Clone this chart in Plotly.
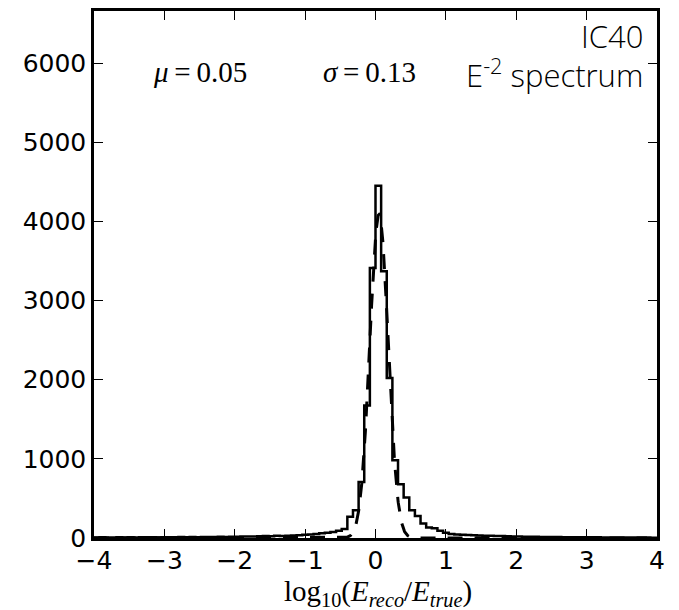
import numpy as np
import plotly.graph_objects as go

# ---- data ----
bin_lo, bin_hi, bin_width = -4.0, 4.0, 0.08
counts = [
    6, 8, 5, 7, 9, 6, 8, 7, 10, 8, 9, 7, 10, 11, 9, 12, 10, 13, 11, 12, 14, 12, 15, 13, 16,
    17, 18, 20, 19, 22, 24, 23, 27, 26, 30, 33, 36, 40,
    45, 50, 59, 67, 75, 92, 113, 268, 352, 709, 1673, 3413,
    4453, 3371, 2021, 981, 679, 512, 352, 277, 184, 134, 122, 92, 67, 50,
    45, 40, 38, 35, 33, 30,
    28, 26, 24, 22, 20,
    18, 17, 16, 15, 14, 13, 12, 12, 11, 10, 10, 9, 9,
    8, 8, 7, 7, 6, 6, 6, 5, 5, 5, 4, 4,
]
fit_mu = 0.05
fit_sigma = 0.13
fit_amp = 4090.0

x_ticks = [-4, -3, -2, -1, 0, 1, 2, 3, 4]
x_ticktext = ["\u22124", "\u22123", "\u22122", "\u22121", "0", "1", "2", "3", "4"]
y_ticks = [0, 1000, 2000, 3000, 4000, 5000, 6000]
y_ticktext = ["0", "1000", "2000", "3000", "4000", "5000", "6000"]

# ---- derived ----
n_bins = len(counts)
edges = bin_lo + bin_width * np.arange(n_bins + 1)
step_x = np.concatenate([[edges[0]], edges])
step_y = np.concatenate([[0], counts, [0]])

gx = np.linspace(bin_lo, bin_hi, 2001)
gy = fit_amp * np.exp(-0.5 * ((gx - fit_mu) / fit_sigma) ** 2)

fig = go.Figure()
fig.add_trace(go.Scatter(x=gx, y=gy, mode="lines",
                         line=dict(color="black", width=3, dash="15px,12px"),
                         hoverinfo="skip"))
fig.add_trace(go.Scatter(x=step_x, y=step_y, mode="lines", line_shape="hv",
                         line=dict(color="black", width=2.5),
                         hoverinfo="skip"))

tick_font = dict(family="DejaVu Sans", size=25, color="black")
fig.update_layout(
    width=679, height=610,
    margin=dict(l=94, r=22, t=8, b=72),
    paper_bgcolor="white", plot_bgcolor="white",
    showlegend=False,
    xaxis=dict(range=[bin_lo, bin_hi], tickvals=x_ticks, ticktext=x_ticktext,
               ticks="inside", ticklen=9, tickwidth=1, tickcolor="black",
               showline=True, linewidth=2.5, linecolor="black", mirror="ticks",
               showgrid=False, zeroline=False, tickfont=tick_font,
               ticklabelstandoff=-2),
    yaxis=dict(range=[0, 6660], tickvals=y_ticks, ticktext=y_ticktext,
               ticks="inside", ticklen=9, tickwidth=1, tickcolor="black",
               showline=True, linewidth=2.5, linecolor="black", mirror="ticks",
               showgrid=False, zeroline=False, tickfont=tick_font,
               ticklabelstandoff=0),
)

serif = dict(family="Liberation Serif", size=29, color="black")
label_font = dict(family="Open Sans", size=31, color="black", weight=300)
fig.add_annotation(x=0.189, y=0.885, xref="paper", yref="paper",
                   text="<i>\u03bc</i>\u2009=\u20090.05", showarrow=False, font=serif,
                   xanchor="center", yanchor="middle")
fig.add_annotation(x=0.489, y=0.885, xref="paper", yref="paper",
                   text="<i>\u03c3</i>\u2009=\u20090.13", showarrow=False, font=serif,
                   xanchor="center", yanchor="middle")
fig.add_annotation(x=0.9787, y=0.952, xref="paper", yref="paper",
                   text="IC40", showarrow=False, font=label_font,
                   xanchor="right", yanchor="middle")
fig.add_annotation(x=0.9787, y=0.882, xref="paper", yref="paper",
                   text="E<sup>-2</sup> spectrum", showarrow=False, font=label_font,
                   xanchor="right", yanchor="middle")
fig.add_annotation(x=0.504, y=-0.104, xref="paper", yref="paper",
                   text="log<sub>10</sub>(<i>E</i><sub><i>reco</i></sub>/<i>E</i><sub><i>true</i></sub>)",
                   showarrow=False, font=dict(family="Liberation Serif", size=29, color="black"),
                   xanchor="center", yanchor="middle")

fig.write_html("out.html")
